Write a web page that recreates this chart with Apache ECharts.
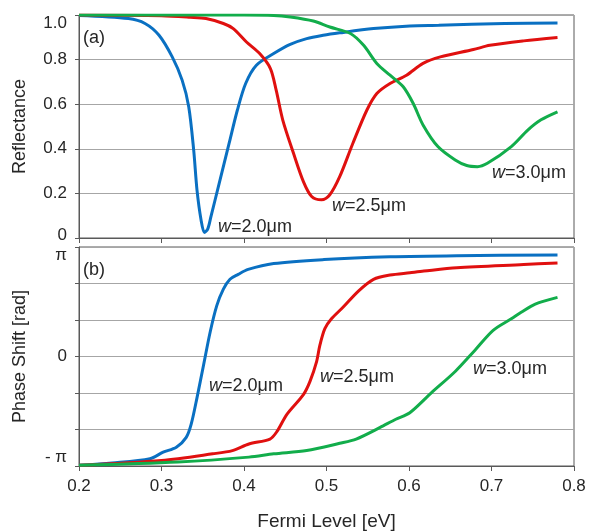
<!DOCTYPE html>
<html><head><meta charset="utf-8">
<script src="https://cdn.jsdelivr.net/npm/echarts@6/dist/echarts.min.js"></script>
<style>html,body{margin:0;padding:0;background:#fff}#c{width:589px;height:532px}</style>
</head><body><div id="c"></div>
<script>
// ---- data ----
const seriesLabels = ['=2.0μm', '=2.5μm', '=3.0μm'];
const colors = ['#0A70C2', '#E0100F', '#12AD4B'];

// Reflectance (panel a)
const refX_w20 = [0.20,0.26,0.28,0.297,0.313,0.325,0.333,0.339,0.343,0.348,0.352,0.356,0.360,0.370,0.382,0.392,0.402,0.415,0.436,0.456,0.476,0.496,0.516,0.557,0.601,0.636,0.716,0.78];
const refY_w20 = [0.998,0.984,0.962,0.909,0.812,0.708,0.589,0.395,0.216,0.08,0.025,0.04,0.097,0.246,0.425,0.574,0.693,0.775,0.827,0.868,0.894,0.909,0.920,0.939,0.951,0.954,0.962,0.964];
const refX_w25 = [0.20,0.30,0.335,0.354,0.375,0.387,0.403,0.419,0.432,0.439,0.447,0.460,0.472,0.482,0.494,0.504,0.516,0.532,0.549,0.561,0.577,0.597,0.617,0.638,0.678,0.698,0.739,0.78];
const refY_w25 = [1.0,0.997,0.99,0.984,0.962,0.939,0.879,0.827,0.760,0.663,0.529,0.380,0.253,0.186,0.171,0.194,0.275,0.425,0.574,0.648,0.693,0.730,0.783,0.812,0.845,0.864,0.884,0.899];
const refX_w30 = [0.20,0.40,0.436,0.456,0.484,0.504,0.529,0.545,0.561,0.577,0.593,0.605,0.617,0.635,0.656,0.670,0.683,0.695,0.724,0.744,0.760,0.78];
const refY_w30 = [1.0,1.0,0.998,0.991,0.973,0.946,0.917,0.864,0.783,0.730,0.678,0.604,0.507,0.41,0.35,0.325,0.320,0.335,0.41,0.484,0.53,0.566];

// Phase shift in rad (panel b)
const phX_w20 = [0.20,0.24,0.286,0.302,0.318,0.330,0.336,0.343,0.351,0.359,0.367,0.375,0.383,0.393,0.405,0.436,0.497,0.577,0.658,0.78];
const phY_w20 = [-3.123,-3.057,-2.934,-2.745,-2.603,-2.319,-1.942,-1.186,-0.242,0.704,1.459,1.931,2.215,2.356,2.498,2.667,2.780,2.859,2.893,2.915];
const phX_w25 = [0.20,0.30,0.362,0.386,0.406,0.4315,0.440,0.452,0.472,0.480,0.488,0.492,0.498,0.506,0.520,0.539,0.557,0.577,0.601,0.618,0.658,0.739,0.78];
const phY_w25 = [-3.123,-2.981,-2.793,-2.699,-2.510,-2.368,-2.15,-1.659,-1.093,-0.713,-0.147,0.325,0.798,1.081,1.413,1.885,2.215,2.337,2.403,2.450,2.545,2.639,2.686];
const phX_w30 = [0.20,0.32,0.406,0.436,0.476,0.516,0.536,0.565,0.584,0.601,0.627,0.656,0.680,0.702,0.724,0.736,0.753,0.78];
const phY_w30 = [-3.123,-3.028,-2.887,-2.793,-2.699,-2.491,-2.369,-2.036,-1.800,-1.612,-1.043,-0.430,0.182,0.751,1.081,1.269,1.505,1.696];

const xTickLabelsDecimals = 1;
const phaseTickLabels = {top: 'π', mid: '0', bot: '- π'};

// ---- chart ----
const FONT = '"Liberation Sans", Arial, sans-serif';
const TXT = '#262626';
const pairs = (xs, ys) => xs.map((x, i) => [x, ys[i]]);

const chart = echarts.init(document.getElementById('c'), null, {renderer: 'canvas'});

function xAxisCfg(gridIndex, showLabels) {
  return {
    type: 'value', gridIndex, min: 0.2, max: 0.8, interval: 0.1,
    axisLine: {show: true, onZero: false, lineStyle: {color: '#595959', width: 1}},
    axisTick: {show: true, inside: false, length: 5, lineStyle: {color: '#595959'}},
    splitLine: {show: false},
    axisLabel: {show: showLabels, margin: 12, fontSize: 17, fontFamily: FONT, color: TXT,
      formatter: v => v.toFixed(xTickLabelsDecimals)},
    name: showLabels ? 'Fermi Level [eV]' : '',
    nameLocation: 'middle', nameGap: 46,
    nameTextStyle: {fontSize: 19, fontFamily: FONT, color: TXT}
  };
}

const lineBase = {type: 'line', showSymbol: false, smooth: 0.3, lineStyle: {width: 3}, emphasis: {disabled: true}};
const refs = [pairs(refX_w20, refY_w20), pairs(refX_w25, refY_w25), pairs(refX_w30, refY_w30)];
const phs = [pairs(phX_w20, phY_w20), pairs(phX_w25, phY_w25), pairs(phX_w30, phY_w30)];

const series = [];
refs.forEach((d, i) => series.push(Object.assign({}, lineBase, {name: 'w' + seriesLabels[i], xAxisIndex: 0, yAxisIndex: 0, data: d, color: colors[i], lineStyle: {width: 3, color: colors[i]}})));
phs.forEach((d, i) => series.push(Object.assign({}, lineBase, {name: 'w' + seriesLabels[i] + ' phase', xAxisIndex: 1, yAxisIndex: 1, data: d, color: colors[i], lineStyle: {width: 3, color: colors[i]}})));

function wLabel(x, y, label) {
  return {type: 'text', x, y, silent: true,
    style: {text: '{i|w}' + label, fill: TXT, fontSize: 18, fontFamily: FONT, verticalAlign: 'middle',
      rich: {i: {fontStyle: 'italic', fontSize: 18, fontFamily: FONT, fill: TXT}}}};
}
function plainText(x, y, t) {
  return {type: 'text', x, y, silent: true,
    style: {text: t, fill: TXT, fontSize: 18, fontFamily: FONT, verticalAlign: 'middle'}};
}

chart.setOption({
  animation: false,
  backgroundColor: '#ffffff',
  grid: [
    {left: 79, top: 15, width: 495, height: 223, show: true, borderColor: '#595959', borderWidth: 1, containLabel: false},
    {left: 79, top: 247, width: 495, height: 222, show: true, borderColor: '#595959', borderWidth: 1, containLabel: false}
  ],
  xAxis: [xAxisCfg(0, false), xAxisCfg(1, true)],
  yAxis: [
    {type: 'value', gridIndex: 0, min: 0, max: 1, interval: 0.2,
      axisLine: {show: true, lineStyle: {color: '#595959'}},
      axisTick: {show: true, length: 4, lineStyle: {color: '#595959'}},
      splitLine: {show: true, lineStyle: {color: '#A6A6A6', width: 1}},
      axisLabel: {margin: 12, fontSize: 17, fontFamily: FONT, color: TXT,
        formatter: v => v === 0 ? '{b|0}' : (Math.abs(v - 1) < 1e-9 ? '{t|1.0}' : v.toFixed(1)),
        rich: {t: {padding: [16, 0, 0, 0], fontSize: 17, fontFamily: FONT, color: TXT},
               b: {padding: [0, 0, 6, 0], fontSize: 17, fontFamily: FONT, color: TXT}}},
      name: 'Reflectance', nameLocation: 'middle', nameGap: 50, nameRotate: 90,
      nameTextStyle: {fontSize: 18, fontFamily: FONT, color: TXT}},
    {type: 'value', gridIndex: 1, min: -Math.PI, max: Math.PI, interval: Math.PI / 3,
      axisLine: {show: true, lineStyle: {color: '#595959'}},
      axisTick: {show: true, length: 4, lineStyle: {color: '#595959'}},
      splitLine: {show: true, lineStyle: {color: '#A6A6A6', width: 1}},
      axisLabel: {margin: 12, fontSize: 17, fontFamily: FONT, color: TXT, showMinLabel: true, showMaxLabel: true,
        formatter: v => Math.abs(v - Math.PI) < 1e-6 ? '{t|' + phaseTickLabels.top + '}' :
                        (Math.abs(v) < 1e-6 ? phaseTickLabels.mid :
                        (Math.abs(v + Math.PI) < 1e-6 ? '{b|' + phaseTickLabels.bot + '}' : '')),
        rich: {t: {padding: [16, 0, 0, 0], fontSize: 17, fontFamily: FONT, color: TXT},
               b: {padding: [0, 0, 18, 0], fontSize: 17, fontFamily: FONT, color: TXT}}},
      name: 'Phase Shift [rad]', nameLocation: 'middle', nameGap: 50, nameRotate: 90,
      nameTextStyle: {fontSize: 18, fontFamily: FONT, color: TXT}}
  ],
  series,
  graphic: [
    plainText(83, 38, '(a)'),
    plainText(83, 270, '(b)'),
    wLabel(218, 227, seriesLabels[0]),
    wLabel(332, 206, seriesLabels[1]),
    wLabel(492, 173, seriesLabels[2]),
    wLabel(209, 386, seriesLabels[0]),
    wLabel(320, 377, seriesLabels[1]),
    wLabel(473, 369, seriesLabels[2])
  ]
});
</script>
</body></html>
